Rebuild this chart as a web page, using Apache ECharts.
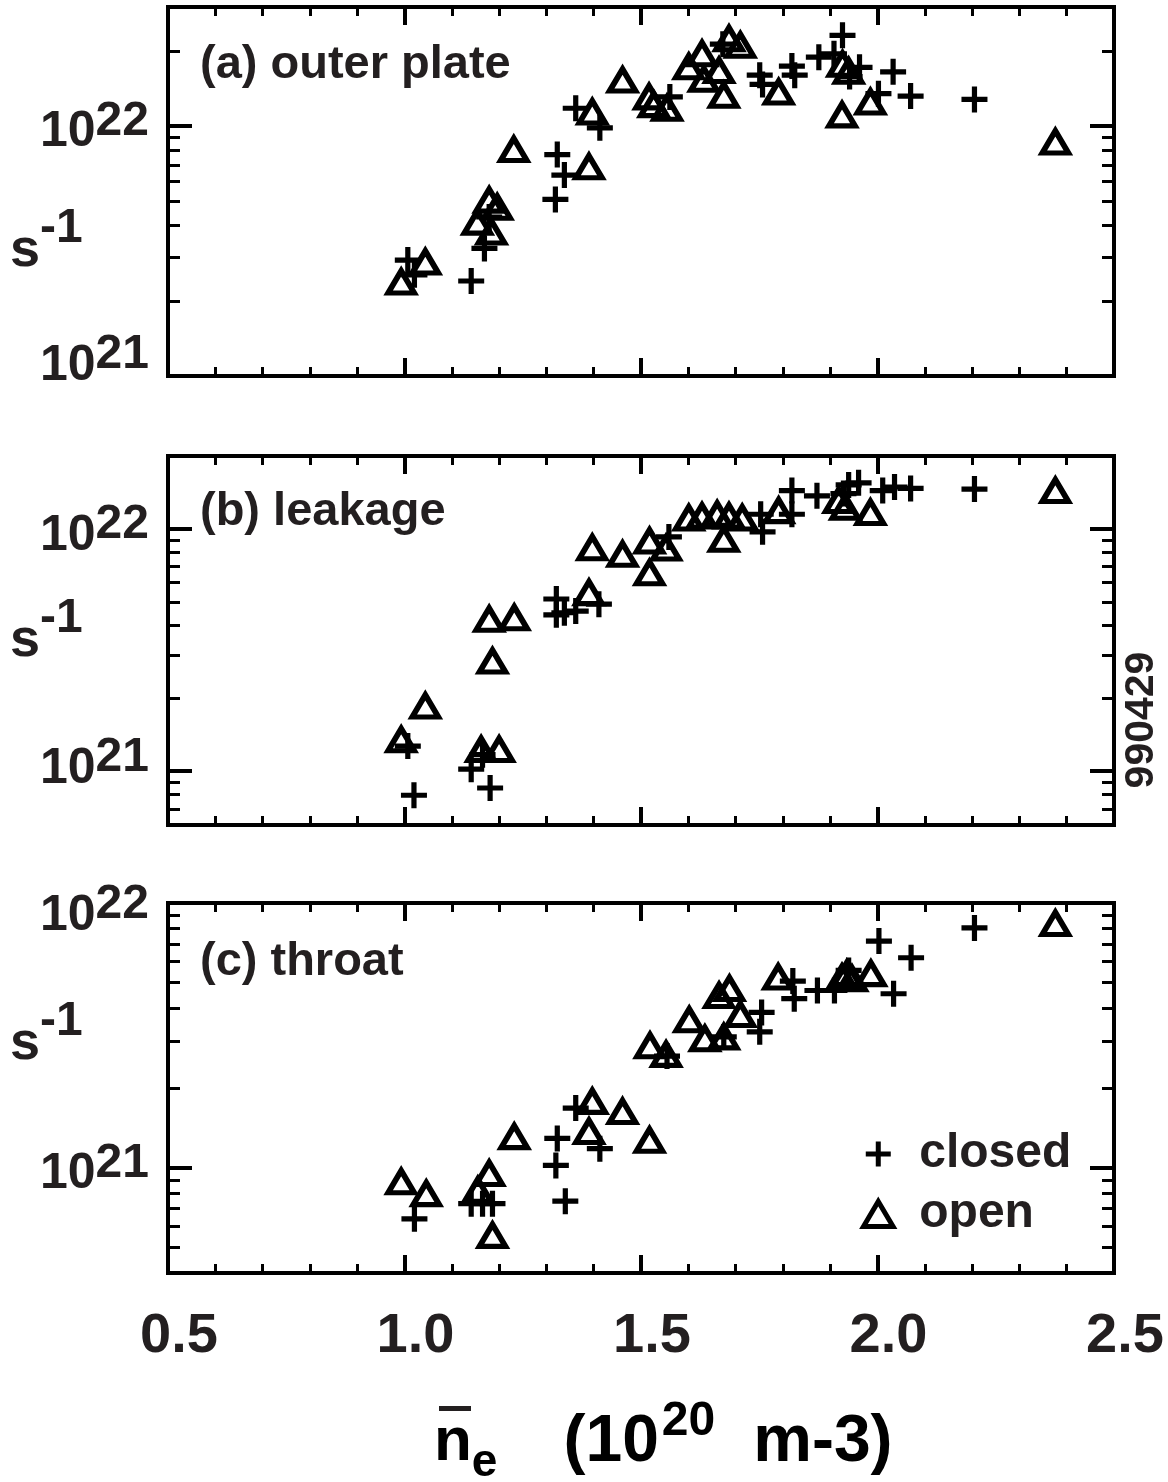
<!DOCTYPE html>
<html>
<head>
<meta charset="utf-8">
<title>990429 particle flux vs density</title>
<script src="https://cdn.jsdelivr.net/npm/echarts@6/dist/echarts.min.js"></script>
<style>
  html, body { margin: 0; padding: 0; background: #fff; }
  #chart { width: 1168px; height: 1482px; }
</style>
</head>
<body>
<div id="chart"></div>
<script>
// line-averaged density (1e20 m-3) vs particle flux (s-1)
var outerClosed = [[1.007, 2.91e21], [1.021, 2.54e21], [1.141, 2.40e21], [1.169, 3.24e21], [1.179, 4.33e21],
  [1.319, 5.09e21], [1.323, 7.70e21], [1.338, 6.37e21], [1.362, 1.18e22], [1.413, 9.85e21],
  [1.561, 1.31e22], [1.673, 2.13e22], [1.751, 1.60e22], [1.757, 1.47e22], [1.819, 1.74e22],
  [1.825, 1.60e22], [1.876, 1.89e22], [1.926, 2.31e22], [1.908, 1.95e22], [1.941, 1.58e22],
  [1.962, 1.72e22], [2.002, 1.35e22], [2.033, 1.65e22], [2.070, 1.32e22], [2.205, 1.28e22]];
var outerOpen = [[0.993, 2.38e21], [1.044, 2.86e21], [1.179, 5.06e21], [1.196, 4.74e21], [1.154, 4.13e21],
  [1.184, 3.77e21], [1.231, 8.07e21], [1.390, 6.88e21], [1.397, 1.14e22], [1.461, 1.53e22],
  [1.517, 1.31e22], [1.527, 1.22e22], [1.555, 1.18e22], [1.601, 1.73e22], [1.629, 1.95e22],
  [1.633, 1.54e22], [1.665, 1.67e22], [1.675, 1.33e22], [1.686, 2.24e22], [1.710, 2.11e22],
  [1.791, 1.37e22], [1.926, 1.77e22], [1.939, 1.66e22], [1.925, 1.11e22], [1.985, 1.25e22],
  [2.376, 8.65e21]];

var leakClosed = [[1.007, 1.27e21], [1.020, 7.96e20], [1.141, 1.02e21], [1.165, 1.17e21], [1.181, 8.53e20],
  [1.321, 5.14e21], [1.321, 4.42e21], [1.338, 4.51e21], [1.362, 4.58e21], [1.411, 4.89e21],
  [1.559, 9.27e21], [1.753, 1.15e22], [1.757, 9.73e21], [1.819, 1.15e22], [1.819, 1.44e22],
  [1.872, 1.37e22], [1.928, 1.40e22], [1.939, 1.52e22], [1.960, 1.55e22], [2.011, 1.44e22],
  [2.036, 1.49e22], [2.070, 1.47e22], [2.205, 1.46e22]];
var leakOpen = [[0.993, 1.35e21], [1.044, 1.86e21], [1.162, 1.23e21], [1.200, 1.23e21], [1.179, 4.24e21],
  [1.232, 4.30e21], [1.186, 2.85e21], [1.390, 5.46e21], [1.397, 8.37e21], [1.461, 7.86e21],
  [1.518, 8.92e21], [1.518, 6.59e21], [1.553, 8.34e21], [1.601, 1.11e22], [1.629, 1.13e22],
  [1.661, 1.15e22], [1.686, 1.13e22], [1.714, 1.11e22], [1.675, 9.06e21], [1.791, 1.19e22],
  [1.918, 1.31e22], [1.932, 1.23e22], [1.985, 1.17e22], [2.376, 1.44e22]];

var throatClosed = [[1.021, 6.41e20], [1.141, 7.31e20], [1.165, 7.31e20], [1.186, 7.31e20], [1.320, 1.02e21],
  [1.323, 1.29e21], [1.340, 7.47e20], [1.362, 1.68e21], [1.413, 1.18e21], [1.555, 2.64e21],
  [1.675, 3.12e21], [1.755, 3.86e21], [1.751, 3.26e21], [1.821, 5.07e21], [1.824, 4.35e21],
  [1.873, 4.67e21], [1.909, 4.67e21], [1.939, 5.56e21], [2.003, 7.18e21], [2.071, 6.21e21],
  [2.034, 4.54e21], [2.205, 8.05e21]];
var throatOpen = [[0.993, 8.85e20], [1.046, 7.98e20], [1.155, 8.22e20], [1.179, 9.51e20], [1.186, 5.55e20],
  [1.232, 1.31e21], [1.390, 1.37e21], [1.397, 1.78e21], [1.461, 1.63e21], [1.518, 1.27e21],
  [1.519, 2.89e21], [1.553, 2.68e21], [1.602, 3.62e21], [1.635, 3.07e21], [1.665, 4.47e21],
  [1.687, 4.75e21], [1.675, 3.12e21], [1.710, 3.79e21], [1.790, 5.25e21], [1.925, 5.24e21],
  [1.935, 5.41e21], [1.946, 5.18e21], [1.986, 5.41e21], [2.376, 8.37e21]];

// axis ranges and minor tick values
var xRange = [0.5, 2.5];
var xStep = 0.5;
var yRangeA = [1e21, 3e22];
var yRangeB = [6e20, 2e22];
var yRangeC = [4e20, 1e22];
var minorA = [2e21, 3e21, 4e21, 5e21, 6e21, 7e21, 8e21, 9e21, 2e22];
var minorB = [7e20, 8e20, 9e20, 2e21, 3e21, 4e21, 5e21, 6e21, 7e21, 8e21, 9e21];
var minorC = [5e20, 6e20, 7e20, 8e20, 9e20, 2e21, 3e21, 4e21, 5e21, 6e21, 7e21, 8e21, 9e21];
var panelTitles = ['(a) outer plate', '(b) leakage', '(c) throat'];

var FONT = "'Liberation Sans', Arial, Helvetica, sans-serif";
var INK = '#231f20';
var PLUS = 'path://M10,0h5v10h10v5h-10v10h-5v-10h-10v-5h10z';
var TRI = 'path://M13,0L26,22L0,22Z';

var panels = [
  {range: yRangeA, minor: minorA, closed: outerClosed, open: outerOpen, top: 7, height: 369,
   titleY: 65, unitY: 251, shift: {21: -10, 22: 6.5}},
  {range: yRangeB, minor: minorB, closed: leakClosed, open: leakOpen, top: 456, height: 369,
   titleY: 512, unitY: 641, shift: {21: -2, 22: 7}},
  {range: yRangeC, minor: minorC, closed: throatClosed, open: throatOpen, top: 903, height: 370,
   titleY: 962, unitY: 1044, shift: {21: 7, 22: 13}}
];

// 10^n labels: base and raised exponent, nudged per label like the original
function expRich(shift) {
  var rich = {};
  for (var p in shift) {
    var d = shift[p], q = 2 * (d - 11);
    rich['b' + p] = {fontSize: 50, fontWeight: 'bold', fontFamily: FONT, color: INK,
      padding: [Math.max(2 * d, 0), 0, Math.max(-2 * d, 0), 0]};
    rich['s' + p] = {fontSize: 48, fontWeight: 'bold', fontFamily: FONT, color: INK,
      padding: [Math.max(q, 0), 0, Math.max(-q, 0), 0]};
  }
  return rich;
}
function expLabel(v) {
  var l = Math.log10(v), p = Math.round(l);
  if (Math.abs(l - p) > 0.001) return '';
  return '{b' + p + '|10}{s' + p + '|' + p + '}';
}

var tickLine = {color: '#000', width: 4};
var minorLine = {color: '#000', width: 3};
var grids = [], xAxes = [], yAxes = [], series = [], graphics = [];

panels.forEach(function(p, i) {
  grids.push({left: 168, width: 946, top: p.top, height: p.height, show: true,
    borderColor: '#000', borderWidth: 4, backgroundColor: 'transparent'});

  ['bottom', 'top'].forEach(function(pos) {
    xAxes.push({
      type: 'value', gridIndex: i, position: pos, min: xRange[0], max: xRange[1], interval: xStep,
      axisLine: {show: false, onZero: false},
      axisTick: {inside: true, length: 18, lineStyle: tickLine},
      minorTick: {show: true, splitNumber: 5, length: 9, lineStyle: minorLine},
      splitLine: {show: false},
      axisLabel: (pos === 'bottom' && i === 2) ? {
        margin: 36, fontSize: 56, fontWeight: 'bold', fontFamily: FONT, color: INK,
        padding: [0, 0, 0, 22],
        formatter: function(v) { return v.toFixed(1); }
      } : {show: false}
    });
  });

  ['left', 'right'].forEach(function(pos) {
    yAxes.push({
      type: 'log', logBase: 10, gridIndex: i, position: pos, min: p.range[0], max: p.range[1],
      axisLine: {show: false, onZero: false},
      axisTick: {inside: true, length: 24, lineStyle: tickLine},
      splitLine: {show: false},
      axisLabel: pos === 'left' ? {margin: 19, formatter: expLabel, rich: expRich(p.shift)} : {show: false}
    });
    yAxes.push({
      type: 'log', logBase: 10, gridIndex: i, position: pos, min: p.range[0], max: p.range[1],
      axisLine: {show: false, onZero: false},
      axisTick: {inside: true, length: 12, customValues: p.minor, lineStyle: minorLine},
      splitLine: {show: false},
      axisLabel: {show: false}
    });
  });

  series.push({
    name: 'closed', type: 'scatter', xAxisIndex: 2 * i, yAxisIndex: 4 * i,
    symbol: PLUS, symbolSize: 26, itemStyle: {color: '#000', opacity: 1},
    emphasis: {disabled: true}, data: p.closed
  });
  series.push({
    name: 'open', type: 'scatter', xAxisIndex: 2 * i, yAxisIndex: 4 * i,
    symbol: 'triangle', symbolSize: [26, 22],
    itemStyle: {color: 'rgba(0,0,0,0)', borderColor: '#000', borderWidth: 5.5, borderJoin: 'miter', opacity: 1},
    emphasis: {disabled: true}, data: p.open
  });

  graphics.push({
    type: 'text', x: 200, y: p.titleY, silent: true,
    style: {text: panelTitles[i], x: 0, y: 0, fill: INK, font: 'bold 47px ' + FONT,
      textAlign: 'left', align: 'left', textVerticalAlign: 'middle', verticalAlign: 'middle'}
  });
  graphics.push({
    type: 'text', x: 10, y: p.unitY, silent: true,
    style: {text: '{b|s}{s|-1}', x: 0, y: 0, textAlign: 'left', align: 'left',
      textVerticalAlign: 'middle', verticalAlign: 'middle',
      rich: {
        b: {fontSize: 54, fontWeight: 'bold', fontFamily: FONT, fill: INK, color: INK},
        s: {fontSize: 48, fontWeight: 'bold', fontFamily: FONT, fill: INK, color: INK, padding: [0, 0, 44, 0]}
      }}
  });
});

// shot number on the right
graphics.push({
  type: 'text', x: 1142, y: 720, rotation: Math.PI / 2, silent: true,
  style: {text: '990429', x: 0, y: 0, fill: INK, font: 'bold 41px ' + FONT,
    textAlign: 'center', align: 'center', textVerticalAlign: 'middle', verticalAlign: 'middle'}
});
// x axis title: n-bar sub e (10^20 m-3)
graphics.push({
  type: 'text', x: 434, y: 1443, silent: true,
  style: {text: '{m|n}{sub|e}{m2|(10}{sup|20}{m3|m-3)}', x: 0, y: 0, textAlign: 'left', align: 'left',
    textVerticalAlign: 'middle', verticalAlign: 'middle',
    rich: {
      m: {fontSize: 62, fontWeight: 'bold', fontFamily: FONT, color: INK},
      sub: {fontSize: 46, fontWeight: 'bold', fontFamily: FONT, color: INK, padding: [40, 0, 0, 0]},
      m2: {fontSize: 66, fontWeight: 'bold', fontFamily: FONT, color: INK, padding: [0, 0, 0, 66]},
      sup: {fontSize: 48, fontWeight: 'bold', fontFamily: FONT, color: INK, padding: [0, 0, 42, 3]},
      m3: {fontSize: 66, fontWeight: 'bold', fontFamily: FONT, color: INK, padding: [0, 0, 0, 38]}
    }}
});
graphics.push({
  type: 'rect', silent: true, shape: {x: 439, y: 1406, width: 32, height: 5}, style: {fill: INK}
});

var chart = echarts.init(document.getElementById('chart'), null, {renderer: 'canvas'});
chart.setOption({
  backgroundColor: '#fff',
  animation: false,
  grid: grids,
  xAxis: xAxes,
  yAxis: yAxes,
  legend: {
    orient: 'vertical', left: 856, top: 1125, itemWidth: 72, itemHeight: 25, itemGap: 12,
    symbolKeepAspect: true, selectedMode: false,
    textStyle: {fontSize: 48, fontWeight: 'bold', fontFamily: FONT, color: INK},
    data: [
      {name: 'closed', icon: PLUS, itemStyle: {color: '#000', borderWidth: 0}},
      {name: 'open', icon: TRI, itemStyle: {color: 'rgba(0,0,0,0)', borderColor: '#000', borderWidth: 5, borderJoin: 'miter'}}
    ]
  },
  graphic: graphics,
  series: series
});
</script>
</body>
</html>
